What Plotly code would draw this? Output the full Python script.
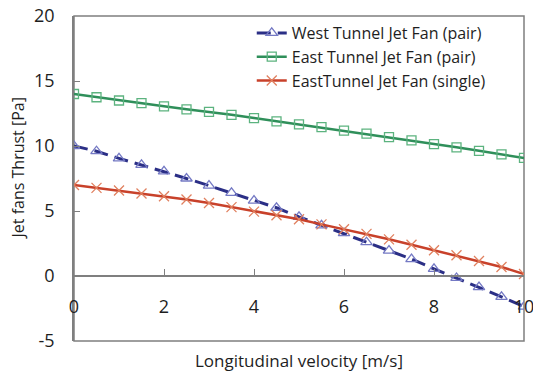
import plotly.graph_objects as go

# Longitudinal velocity [m/s]
velocity = [0, 0.5, 1, 1.5, 2, 2.5, 3, 3.5, 4, 4.5, 5, 5.5, 6, 6.5, 7, 7.5, 8, 8.5, 9, 9.5, 10]

# Jet fan thrust [Pa]
west_pair = [10.0, 9.6, 9.05, 8.55, 8.05, 7.5, 6.95, 6.4, 5.8, 5.25, 4.55, 3.9, 3.3, 2.6,
             1.95, 1.3, 0.55, -0.15, -0.85, -1.6, -2.35]
east_pair = [14.0, 13.75, 13.5, 13.3, 13.05, 12.82, 12.62, 12.4, 12.15, 11.9, 11.67, 11.45,
             11.18, 10.95, 10.68, 10.44, 10.15, 9.9, 9.63, 9.36, 9.08]
east_single = [7.0, 6.78, 6.58, 6.35, 6.13, 5.88, 5.62, 5.3, 4.95, 4.67, 4.36, 3.97, 3.6,
               3.24, 2.82, 2.41, 1.98, 1.59, 1.15, 0.69, 0.15]

x_ticks = [0, 2, 4, 6, 8, 10]
y_ticks = [-5, 0, 5, 10, 15, 20]

x_title = "Longitudinal velocity [m/s]"
y_title = "Jet fans Thrust [Pa]"

FONT = "Open Sans"
AXIS_GREY = "#7f7f7f"
TEXT = "#1e1e1e"

fig = go.Figure()

fig.add_trace(go.Scatter(
    x=velocity, y=west_pair, name="West Tunnel Jet Fan (pair)",
    mode="lines+markers",
    line=dict(color="#2b2f86", width=3, dash="14px,7px"),
    marker=dict(symbol="triangle-up-open", size=10, color="#7479c4",
                line=dict(width=1.3, color="#7479c4")),
))
fig.add_trace(go.Scatter(
    x=velocity, y=east_pair, name="East Tunnel Jet Fan (pair)",
    mode="lines+markers",
    line=dict(color="#2f8f5a", width=2.5),
    marker=dict(symbol="square-open", size=9, color="#5cb37f",
                line=dict(width=1.3, color="#5cb37f")),
))
fig.add_trace(go.Scatter(
    x=velocity, y=east_single, name="EastTunnel Jet Fan (single)",
    mode="lines+markers",
    line=dict(color="#c8412a", width=2.5),
    marker=dict(symbol="x-thin-open", size=10, color="#e0805f",
                line=dict(width=1.3, color="#e0805f")),
))

fig.update_layout(
    width=533, height=374,
    margin=dict(l=74, r=9, t=16, b=33, autoexpand=False),
    paper_bgcolor="white", plot_bgcolor="white",
    font=dict(family=FONT, color=TEXT),
    showlegend=True,
    legend=dict(x=0.395, y=1.0, xanchor="left", yanchor="top",
                bgcolor="rgba(0,0,0,0)", font=dict(size=16, family=FONT, color=TEXT),
                tracegroupgap=0, itemwidth=30),
    xaxis=dict(
        range=[0, 10], tickvals=x_ticks, ticktext=[str(v) for v in x_ticks],
        anchor="free", position=0.2, automargin=False,
        showline=True, linecolor=AXIS_GREY, linewidth=1.5,
        ticks="inside", ticklen=6, tickcolor=AXIS_GREY, tickwidth=1.2,
        ticklabelstandoff=15, ticklabeloverflow="allow",
        tickfont=dict(size=18, family=FONT, color=TEXT),
        showgrid=False, zeroline=False,
    ),
    yaxis=dict(
        range=[-5, 20], tickvals=y_ticks, ticktext=[str(v) for v in y_ticks],
        automargin=False,
        showline=True, linecolor=AXIS_GREY, linewidth=1.5,
        ticks="inside", ticklen=6, tickcolor=AXIS_GREY, tickwidth=1.2,
        ticklabelstandoff=14,
        tickfont=dict(size=18, family=FONT, color=TEXT),
        showgrid=False, zeroline=False,
    ),
    shapes=[dict(type="rect", xref="paper", yref="paper", x0=0, y0=0, x1=1, y1=1,
                 line=dict(color=AXIS_GREY, width=1.5), layer="below")],
    annotations=[
        dict(text=x_title, xref="paper", yref="paper", x=0.5, y=-0.06,
             xanchor="center", yanchor="middle", showarrow=False,
             font=dict(size=17, family=FONT, color=TEXT)),
        dict(text=y_title, xref="paper", yref="paper", x=-0.125, y=0.53,
             xanchor="center", yanchor="middle", showarrow=False, textangle=-90,
             font=dict(size=16, family=FONT, color=TEXT)),
    ],
)

fig.write_html("out.html")
